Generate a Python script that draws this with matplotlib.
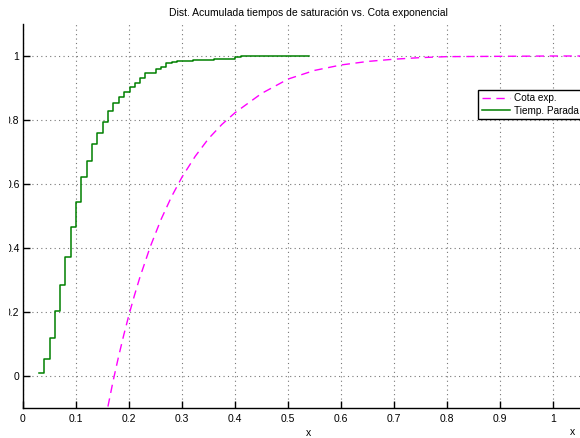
import numpy as np
import matplotlib.pyplot as plt
from matplotlib.patches import Rectangle

plt.rcParams['font.family'] = ['Liberation Sans', 'DejaVu Sans']

# Empirical distribution of saturation times (step curve)
t_steps = [0.031, 0.040, 0.050, 0.061, 0.070, 0.080, 0.090, 0.100, 0.110, 0.121,
           0.130, 0.140, 0.150, 0.160, 0.170, 0.181, 0.191, 0.201, 0.211, 0.221,
           0.231, 0.250, 0.260, 0.270, 0.281, 0.291, 0.321, 0.360, 0.380, 0.400,
           0.411, 0.540]
f_steps = [0.010, 0.052, 0.118, 0.204, 0.283, 0.373, 0.466, 0.543, 0.621, 0.673,
           0.725, 0.759, 0.794, 0.827, 0.853, 0.871, 0.887, 0.902, 0.915, 0.930,
           0.946, 0.958, 0.967, 0.977, 0.981, 0.985, 0.988, 0.990, 0.992, 0.996,
           1.000, 1.000]

# Exponential bound
x_exp = [0.155, 0.170, 0.180, 0.190, 0.200, 0.210, 0.220, 0.240, 0.260, 0.280,
         0.300, 0.325, 0.350, 0.375, 0.400, 0.450, 0.500, 0.550, 0.600, 0.650,
         0.700, 0.750, 0.800, 0.900, 1.000, 1.100]
y_exp = [-0.138, -0.015, 0.059, 0.128, 0.192, 0.251, 0.306, 0.404, 0.488, 0.560,
         0.622, 0.687, 0.742, 0.786, 0.823, 0.883, 0.928, 0.955, 0.972, 0.983,
         0.990, 0.995, 0.998, 0.999, 1.000, 1.000]

W, H = 580, 438
fig = plt.figure(figsize=(W / 100, H / 100), dpi=100)
left, right, bottom, top = 23, 593, 408, 24
ax = fig.add_axes([left / W, 1 - bottom / H, (right - left) / W, (bottom - top) / H])

ax.plot(x_exp, y_exp, color='#ff00ff', linestyle=(0, (6, 4)), linewidth=1, label='Cota exp.')
ax.step(t_steps, f_steps, where='post', color='#008000', linewidth=1.1, label='Tiemp. Parada')

ax.set_xlim(0, 1.075)
ax.set_ylim(-0.1, 1.1)
ax.set_xticks(np.arange(0, 1.01, 0.1))
ax.set_xticklabels(['0', '0.1', '0.2', '0.3', '0.4', '0.5', '0.6', '0.7', '0.8', '0.9', '1'])
ax.set_yticks([0, 0.2, 0.4, 0.6, 0.8, 1.0])
ax.set_yticklabels(['0', '0.2', '0.4', '0.6', '0.8', '1'])
ax.tick_params(direction='in', length=5, width=1, labelsize=7.5)
ax.tick_params(axis='y', pad=2.5)
ax.tick_params(axis='x', pad=4)

ax.spines['top'].set_visible(False)
ax.spines['right'].set_visible(False)
ax.spines['left'].set_linewidth(1)
ax.spines['bottom'].set_linewidth(1)

ax.grid(True, linestyle=(0, (1, 3)), color='#777777', linewidth=0.8)

ax.set_title('Dist. Acumulada tiempos de saturación vs. Cota exponencial', fontsize=7.5, pad=6)
ax.set_xlabel('x', fontsize=7.5, labelpad=3)
fig.text(573 / W, 1 - 432 / H, 'x', fontsize=7.5, ha='center', va='center')

leg = ax.legend(loc='upper left', bbox_to_anchor=(478 / W, 1 - 90 / H),
                bbox_transform=fig.transFigure, fontsize=7.2, fancybox=False,
                framealpha=1, edgecolor='black', borderaxespad=0, handlelength=2.8,
                borderpad=0.35, labelspacing=0.25, handletextpad=0.5)
leg.get_frame().set_linewidth(1)

# the left strip of the original image is blank (labels cut there)
fig.patches.append(Rectangle((0, 0), 9 / W, 1, transform=fig.transFigure,
                             facecolor='white', edgecolor='none', zorder=10))

fig.savefig('out.png', dpi=100)
